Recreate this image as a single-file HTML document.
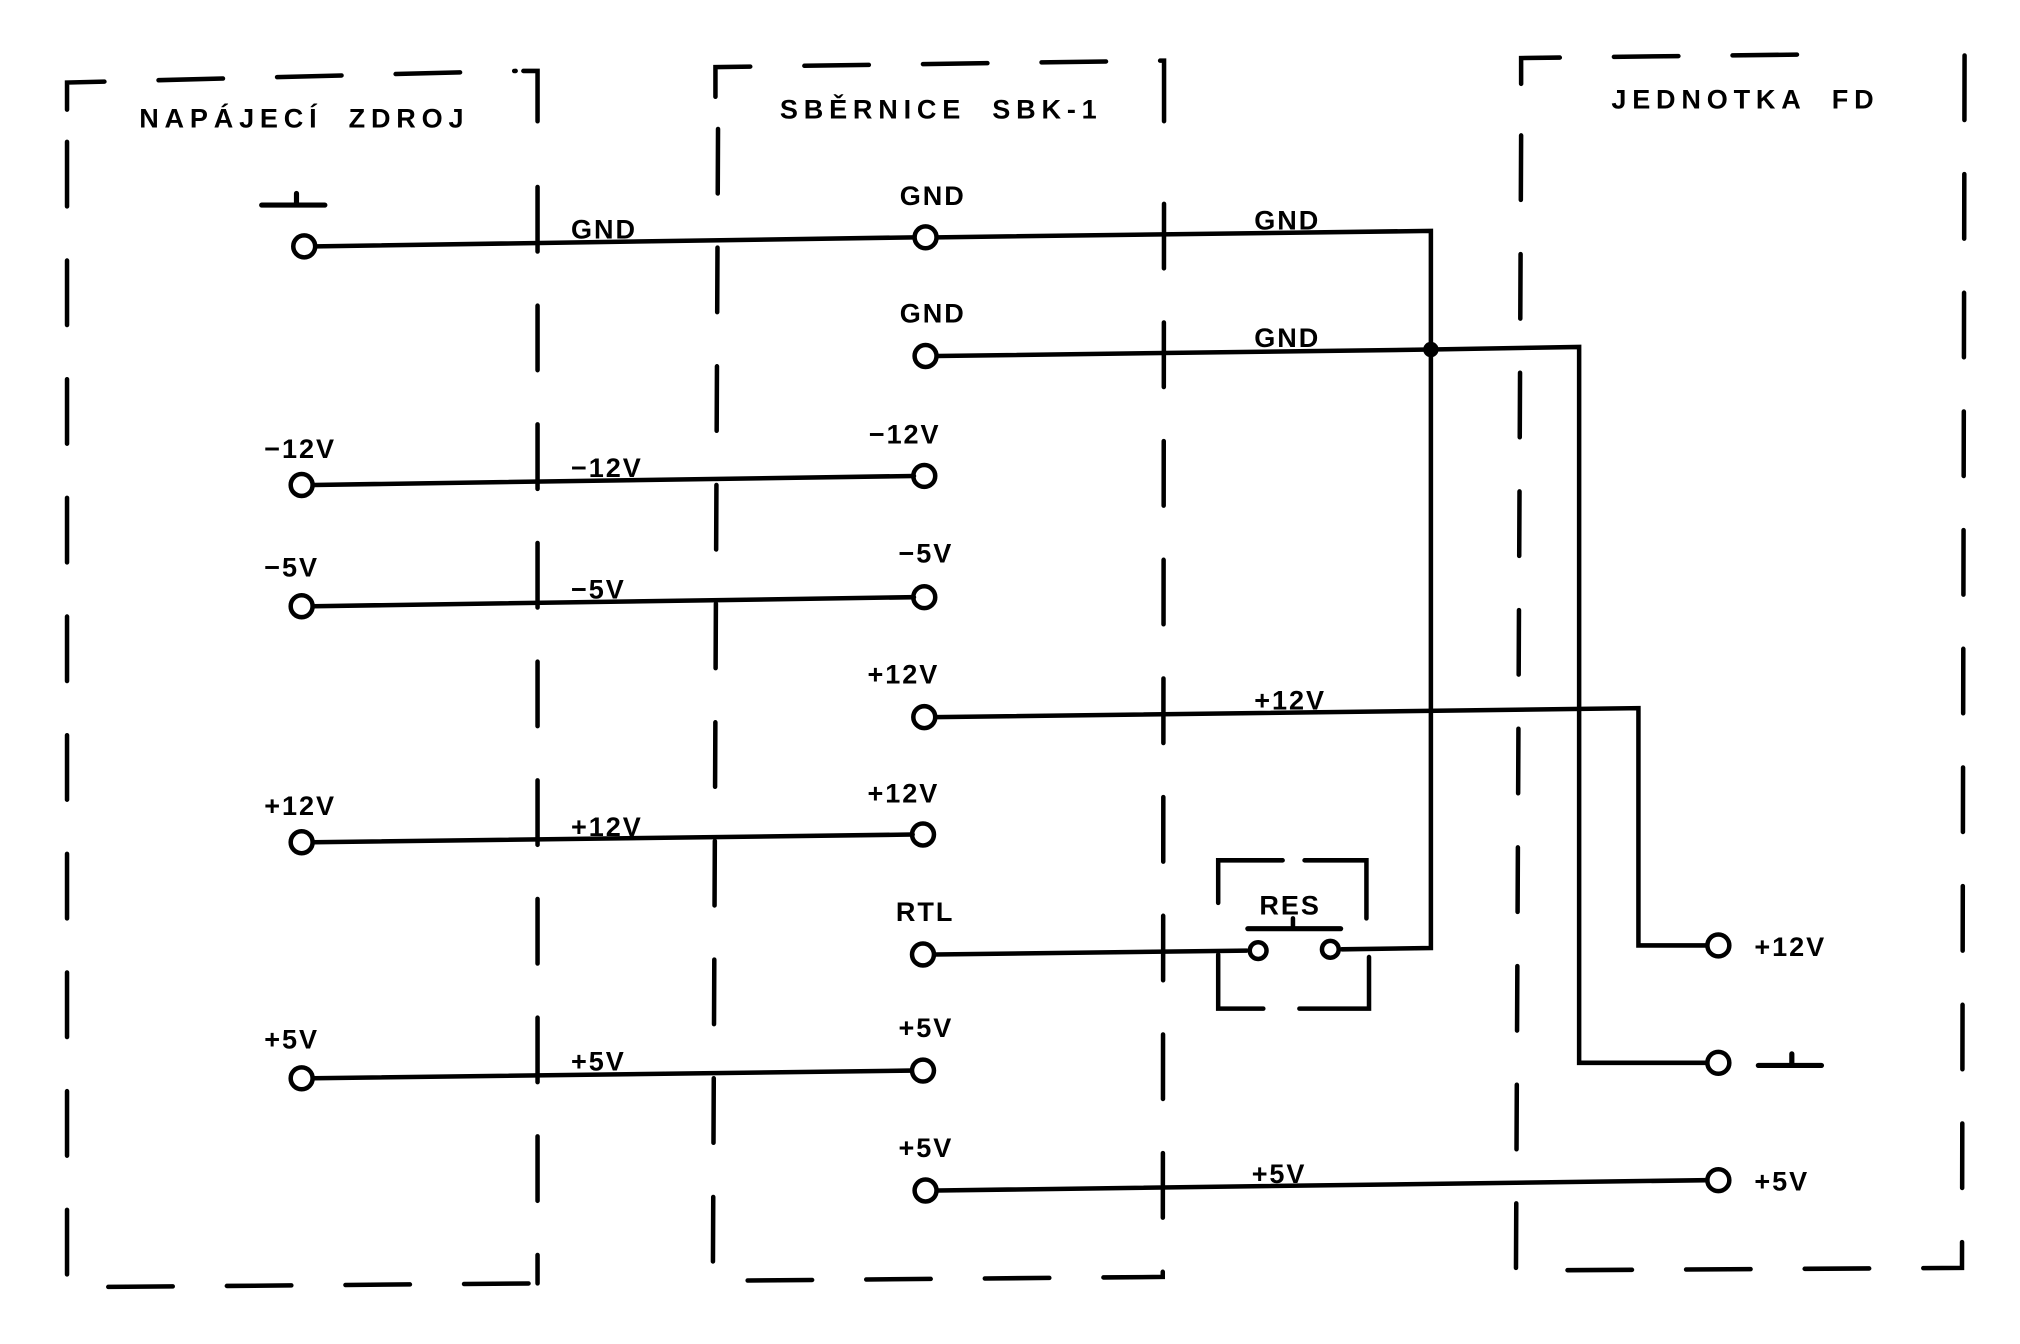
<!DOCTYPE html>
<html><head><meta charset="utf-8"><style>
html,body{margin:0;padding:0;background:#fff;}
svg{display:block;}
text{font-family:"Liberation Sans",sans-serif;font-weight:bold;font-size:21px;fill:#000;letter-spacing:1.5px;}
text.h{letter-spacing:4.5px;word-spacing:10px;}
</style></head><body>
<svg width="2020" height="1344" viewBox="0 0 1567 1042" preserveAspectRatio="none" xmlns="http://www.w3.org/2000/svg">
<g fill="none" stroke="#000" stroke-width="3.5" stroke-linecap="round">
<g stroke-dasharray="50 42">
<path d="M52 85 L52 64 L400 55"/>
<path d="M52 110 L52 998 L417 995"/>
<path d="M406 55 L417 55 L417 100"/>
<path d="M417 145 L417 995"/>
<path d="M555 75 L555 52 L903 47 L903 95"/>
<path d="M557 100 L553 993 L902 990 L903 140"/>
<path d="M1180 65 L1180 45 L1420 42"/>
<path d="M1180 105 L1176 985 L1522 983 L1524 42 L1512 42"/>
</g>
<path d="M245 191 L709 184"/>
<path d="M727 184 L1110 179 L1110 735 L1041 736"/>
<path d="M727 276 L1110 271 L1225 269 L1225 824 L1324 824"/>
<path d="M243 376 L709 369"/>
<path d="M243 470 L709 463"/>
<path d="M726 556 L1271 549 L1271 733 L1324 733"/>
<path d="M243 653 L708 647"/>
<path d="M725 740 L967 737"/>
<path d="M243 836 L707 830"/>
<path d="M727 923 L1324 915"/>
<circle cx="236" cy="191" r="8.5"/>
<circle cx="718" cy="184" r="8.5"/>
<circle cx="718" cy="276" r="8.5"/>
<circle cx="234" cy="376" r="8.5"/>
<circle cx="717" cy="369" r="8.5"/>
<circle cx="234" cy="470" r="8.5"/>
<circle cx="717" cy="463" r="8.5"/>
<circle cx="717" cy="556" r="8.5"/>
<circle cx="234" cy="653" r="8.5"/>
<circle cx="716" cy="647" r="8.5"/>
<circle cx="716" cy="740" r="8.5"/>
<circle cx="234" cy="836" r="8.5"/>
<circle cx="716" cy="830" r="8.5"/>
<circle cx="718" cy="923" r="8.5"/>
<circle cx="1333" cy="733" r="8.5"/>
<circle cx="1333" cy="824" r="8.5"/>
<circle cx="1333" cy="915" r="8.5"/>
<circle cx="976" cy="737" r="6.5"/>
<circle cx="1032" cy="736" r="6.5"/>
<path d="M945 700 L945 667 L995 667"/>
<path d="M1012 667 L1060 667 L1060 712"/>
<path d="M945 740 L945 782 L980 782"/>
<path d="M1008 782 L1062 782 L1062 742"/>
<path d="M968 720 L1040 720" stroke-width="4"/>
<path d="M1003 712 L1003 720"/>
<path d="M203 159 L252 159 M230 150 L230 159" stroke-width="4"/>
<path d="M1364 826 L1413 826 M1390 817 L1390 826" stroke-width="4"/>
</g>
<circle cx="1110" cy="271" r="6" fill="#000"/>
<text class="h" x="108" y="99">NAPÁJECÍ ZDROJ</text>
<text class="h" x="605" y="92">SBĚRNICE SBK-1</text>
<text class="h" x="1250" y="84">JEDNOTKA FD</text>
<text x="443" y="185">GND</text>
<text x="698" y="159">GND</text>
<text x="698" y="250">GND</text>
<text x="973" y="178">GND</text>
<text x="973" y="269">GND</text>
<text x="205" y="355">−12V</text>
<text x="443" y="370">−12V</text>
<text x="674" y="344">−12V</text>
<text x="205" y="447">−5V</text>
<text x="443" y="464">−5V</text>
<text x="697" y="436">−5V</text>
<text x="673" y="530">+12V</text>
<text x="973" y="550">+12V</text>
<text x="205" y="632">+12V</text>
<text x="443" y="648">+12V</text>
<text x="673" y="622">+12V</text>
<text x="695" y="714">RTL</text>
<text x="977" y="709">RES</text>
<text x="205" y="813">+5V</text>
<text x="443" y="830">+5V</text>
<text x="697" y="804">+5V</text>
<text x="697" y="897">+5V</text>
<text x="971" y="917">+5V</text>
<text x="1361" y="741">+12V</text>
<text x="1361" y="923">+5V</text>
</svg>
</body></html>
